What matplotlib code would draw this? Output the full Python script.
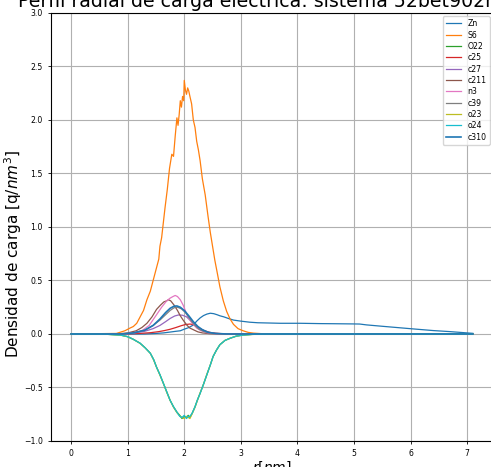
import matplotlib
matplotlib.use("Agg")
import matplotlib.pyplot as plt

# Radial charge density profiles per atom type (r in nm, density in q/nm^3)
r_zn = [0, 1.3, 1.5, 1.63, 1.75, 1.85, 1.93, 2.0, 2.08, 2.16, 2.22, 2.28, 2.34, 2.40,
        2.46, 2.52, 2.58, 2.63, 2.70, 2.78, 2.87, 3.0, 3.16, 3.3, 3.46, 3.7, 4.05, 4.4,
        4.63, 4.99, 5.1, 5.22, 5.5, 5.81, 6.1, 6.40, 6.7, 7.05, 7.1]
v_zn = [0, 0, 0.005, 0.01, 0.018, 0.025, 0.03, 0.045, 0.06, 0.084, 0.12, 0.15, 0.172, 0.186,
        0.194, 0.19, 0.18, 0.17, 0.16, 0.145, 0.13, 0.12, 0.11, 0.105, 0.103, 0.10, 0.10, 0.097,
        0.096, 0.094, 0.093, 0.085, 0.072, 0.058, 0.045, 0.032, 0.022, 0.008, 0.006]

r_s6 = [0, 0.8, 0.95, 1.04, 1.1, 1.16, 1.22, 1.28, 1.34, 1.40, 1.45, 1.50, 1.55, 1.57, 1.60,
        1.63, 1.66, 1.70, 1.74, 1.78, 1.81, 1.84, 1.87, 1.89, 1.91, 1.93, 1.95, 1.97, 1.99,
        2.00, 2.02, 2.04, 2.06, 2.08, 2.10, 2.13, 2.16, 2.19, 2.22, 2.25, 2.28, 2.32, 2.37,
        2.42, 2.46, 2.50, 2.54, 2.58, 2.63, 2.69, 2.75, 2.81, 2.87, 2.95, 3.04, 3.13, 3.22,
        3.4, 4.0, 7.1]
v_s6 = [0, 0.005, 0.03, 0.055, 0.07, 0.1, 0.16, 0.22, 0.32, 0.4, 0.5, 0.6, 0.7, 0.82, 0.9,
        1.04, 1.18, 1.35, 1.55, 1.68, 1.66, 1.85, 2.02, 1.95, 2.05, 2.18, 2.12, 2.22, 2.18,
        2.37, 2.28, 2.24, 2.3, 2.27, 2.22, 2.15, 2.0, 1.93, 1.8, 1.72, 1.62, 1.45, 1.3,
        1.1, 0.95, 0.82, 0.69, 0.58, 0.44, 0.31, 0.21, 0.14, 0.09, 0.05, 0.03, 0.015, 0.008,
        0.002, 0, 0]

r_oxy = [0, 0.6, 0.87, 1.0, 1.1, 1.22, 1.31, 1.40, 1.46, 1.51, 1.57, 1.63, 1.69, 1.75, 1.81,
         1.87, 1.92, 1.96, 2.00, 2.04, 2.07, 2.10, 2.14, 2.19, 2.23, 2.28, 2.34, 2.40, 2.46,
         2.51, 2.57, 2.63, 2.72, 2.81, 2.92, 3.04, 3.2, 3.5, 7.1]
v_o22 = [0, -0.002, -0.01, -0.025, -0.05, -0.087, -0.13, -0.18, -0.24, -0.31, -0.38, -0.46,
         -0.54, -0.62, -0.68, -0.73, -0.76, -0.79, -0.77, -0.78, -0.76, -0.78, -0.74, -0.68,
         -0.62, -0.555, -0.47, -0.38, -0.29, -0.21, -0.15, -0.10, -0.06, -0.04, -0.02, -0.01,
         -0.004, 0, 0]
v_o23 = [0, -0.002, -0.01, -0.026, -0.05, -0.088, -0.13, -0.18, -0.245, -0.31, -0.385, -0.46,
         -0.545, -0.62, -0.685, -0.735, -0.765, -0.78, -0.79, -0.77, -0.78, -0.79, -0.745, -0.685,
         -0.625, -0.55, -0.47, -0.375, -0.29, -0.21, -0.15, -0.10, -0.06, -0.04, -0.02, -0.01,
         -0.004, 0, 0]
v_o24 = [0, -0.002, -0.01, -0.025, -0.05, -0.086, -0.13, -0.18, -0.24, -0.31, -0.38, -0.46,
         -0.54, -0.62, -0.68, -0.73, -0.77, -0.78, -0.76, -0.79, -0.77, -0.77, -0.74, -0.68,
         -0.62, -0.555, -0.47, -0.38, -0.29, -0.21, -0.15, -0.10, -0.06, -0.04, -0.02, -0.01,
         -0.004, 0, 0]

r_c25 = [0, 0.9, 1.2, 1.4, 1.55, 1.65, 1.75, 1.85, 1.95, 2.02, 2.10, 2.16, 2.22, 2.28, 2.36,
         2.45, 2.55, 2.7, 3.0, 7.1]
v_c25 = [0, 0, 0.005, 0.012, 0.022, 0.032, 0.044, 0.06, 0.078, 0.088, 0.093, 0.088, 0.07,
         0.05, 0.03, 0.015, 0.007, 0.002, 0, 0]

r_c27 = [0, 0.9, 1.1, 1.3, 1.45, 1.57, 1.67, 1.75, 1.83, 1.90, 1.97, 2.04, 2.10, 2.16, 2.24,
         2.32, 2.42, 2.55, 2.8, 7.1]
v_c27 = [0, 0, 0.008, 0.025, 0.05, 0.08, 0.115, 0.145, 0.168, 0.178, 0.175, 0.16, 0.13,
         0.095, 0.06, 0.035, 0.015, 0.005, 0, 0]

r_c211 = [0, 0.8, 1.0, 1.15, 1.25, 1.34, 1.43, 1.51, 1.58, 1.64, 1.69, 1.72, 1.76, 1.82,
          1.88, 1.93, 1.98, 2.05, 2.1, 2.16, 2.24, 2.32, 2.45, 2.6, 7.1]
v_c211 = [0, 0, 0.01, 0.03, 0.06, 0.10, 0.16, 0.23, 0.27, 0.3, 0.31, 0.32, 0.31, 0.27,
          0.22, 0.17, 0.13, 0.08, 0.055, 0.04, 0.02, 0.01, 0.003, 0, 0]

r_n3 = [0, 0.9, 1.1, 1.25, 1.38, 1.51, 1.6, 1.69, 1.75, 1.8, 1.84, 1.88, 1.93, 1.98, 2.04,
        2.1, 2.16, 2.22, 2.3, 2.4, 2.55, 7.1]
v_n3 = [0, 0, 0.01, 0.03, 0.08, 0.18, 0.25, 0.31, 0.335, 0.35, 0.36, 0.35, 0.32, 0.27, 0.19,
        0.13, 0.09, 0.055, 0.03, 0.012, 0.003, 0]

r_c39 = [0, 0.9, 1.1, 1.3, 1.45, 1.57, 1.67, 1.75, 1.82, 1.88, 1.95, 2.02, 2.1, 2.18, 2.26,
         2.36, 2.5, 2.7, 7.1]
v_c39 = [0, 0, 0.01, 0.035, 0.08, 0.13, 0.18, 0.22, 0.245, 0.25, 0.235, 0.2, 0.14, 0.085,
         0.045, 0.02, 0.006, 0.001, 0]

r_c310 = [0, 0.9, 1.1, 1.3, 1.45, 1.57, 1.67, 1.75, 1.82, 1.87, 1.93, 2.0, 2.08, 2.16, 2.24,
          2.32, 2.42, 2.55, 2.75, 7.1]
v_c310 = [0, 0, 0.01, 0.035, 0.08, 0.14, 0.2, 0.24, 0.26, 0.262, 0.25, 0.22, 0.17, 0.115,
          0.07, 0.04, 0.016, 0.005, 0, 0]

series = [
    ("Zn", r_zn, v_zn),
    ("S6", r_s6, v_s6),
    ("O22", r_oxy, v_o22),
    ("c25", r_c25, v_c25),
    ("c27", r_c27, v_c27),
    ("c211", r_c211, v_c211),
    ("n3", r_n3, v_n3),
    ("c39", r_c39, v_c39),
    ("o23", r_oxy, v_o23),
    ("o24", r_oxy, v_o24),
    ("c310", r_c310, v_c310),
]

y_ticks = [-1.0, -0.5, 0.0, 0.5, 1.0, 1.5, 2.0, 2.5, 3.0]
x_ticks = [0, 1, 2, 3, 4, 5, 6, 7]

fig = plt.figure(figsize=(4.91, 4.67), dpi=100)
ax = fig.add_axes([0.1039, 0.0557, 0.9, 0.9165])

for name, r, v in series:
    lw = 1.2 if name == "c310" else 0.9
    ax.plot(r, v, label=name, linewidth=lw)

ax.set_ylim(-1.0, 3.0)
ax.set_xlim(-0.355, 7.455)
ax.set_yticks(y_ticks)
ax.set_xticks(x_ticks)
ax.tick_params(labelsize=5.6, length=2.5, width=0.6)
ax.grid(True)
ax.set_xlabel("$r[nm]$", fontsize=10, labelpad=1)
ax.set_ylabel("Densidad de carga [q/$nm^3$]", fontsize=11)
ax.yaxis.set_label_coords(-0.062, 0.438)
fig.text(18 / 491, 1 - 7 / 467, "Perfil radial de carga eléctrica: sistema 52bet902n",
         fontsize=13.6, ha="left", va="baseline")
ax.legend(fontsize=5.6, loc="upper right", handlelength=2.0, labelspacing=0.3,
          borderaxespad=0.4)

fig.savefig("out.png", dpi=100)
